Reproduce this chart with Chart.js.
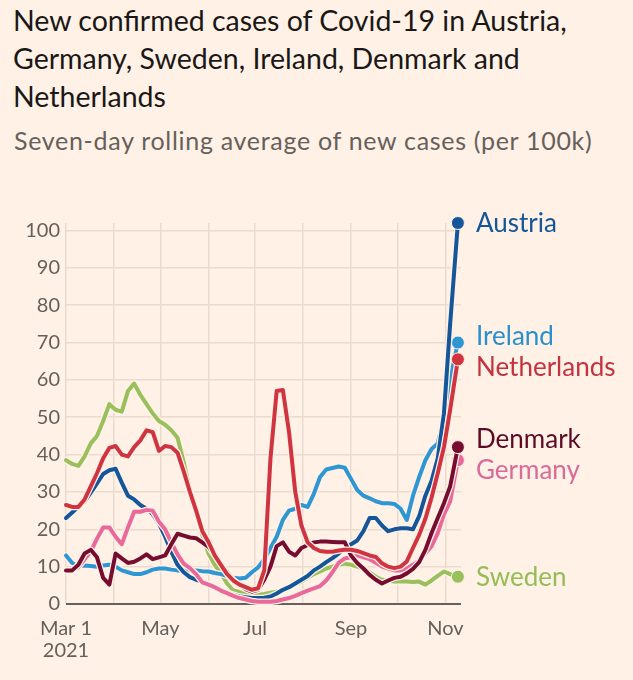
<!DOCTYPE html>
<html>
<head>
<meta charset="utf-8">
<script src="https://cdn.jsdelivr.net/npm/chart.js@4.4.0/dist/chart.umd.min.js"></script>
<style>
  html, body { margin: 0; padding: 0; background: #fff1e5; }
  body { width: 633px; height: 680px; position: relative; overflow: hidden; font-family: Lato, sans-serif; }
  #title { position: absolute; left: 13px; top: 1px; font-size: 28.5px; line-height: 38px; color: #1a1817; white-space: nowrap; }
  #subtitle { position: absolute; left: 14px; top: 125px; font-size: 25px; line-height: 30px; letter-spacing: 0.7px; color: #66605c; white-space: nowrap; }
  #wrap { position: absolute; left: 0; top: 180px; width: 633px; height: 500px; }
</style>
</head>
<body>
<div id="title">New confirmed cases of Covid-19 in Austria,<br>Germany, Sweden, Ireland, Denmark and<br>Netherlands</div>
<div id="subtitle">Seven-day rolling average of new cases (per 100k)</div>
<div id="wrap"><canvas id="myChart"></canvas></div>
<script>
// days since 1 Mar 2021
var days = [0, 4, 8, 12, 16, 20, 24, 28, 32, 36, 40, 44, 48, 52, 56, 60, 64, 68, 72, 76,
  80, 84, 88, 92, 96, 100, 104, 108, 112, 116, 120, 124, 128, 132, 136, 140, 144, 148, 152, 156,
  160, 164, 168, 172, 176, 180, 184, 188, 192, 196, 200, 204, 208, 212, 216, 220, 224, 228, 232, 236,
  240, 244, 248, 253];

var austria = [23, 24.5, 26, 27.5, 29.8, 32.3, 34.8, 35.8, 36.2, 32.5, 29, 28, 26.5, 25.5, 24, 21.5, 18, 14, 10.5, 8.5,
  7.2, 6.5, 6, 5.2, 4.5, 3.7, 3, 2.5, 2, 1.8, 1.6, 1.6, 1.7, 2, 2.8, 3.8, 4.5, 5.5, 6.5, 7.5,
  9, 10, 11.2, 12.3, 13.5, 15, 16, 17, 19.5, 23, 23, 21, 19.5, 20, 20.3, 20.3, 20, 23.5, 29, 33,
  39, 51, 75, 102];
var germany = [9, 9, 9.8, 12, 14, 17.5, 20.5, 20.5, 18, 16, 20.5, 24.7, 24.7, 25.2, 25, 22, 20, 16.5, 13.3, 10.8,
  9.6, 8, 5.8, 5.2, 4.5, 3.6, 2.9, 2.2, 1.6, 1.2, 0.8, 0.6, 0.6, 0.6, 0.8, 1.2, 1.6, 2.2, 2.9, 3.6,
  4.2, 4.8, 6.3, 8.5, 11, 12.2, 12.5, 13, 12.5, 12, 11, 10, 9.5, 9, 9, 9.5, 10.5, 11.5, 13.5, 15.5,
  19, 24, 27.5, 38.5];
var sweden = [38.5, 37.5, 37, 39.5, 43, 45, 49, 53.5, 52, 51.5, 57, 59, 56, 53.5, 51, 49, 48, 46.5, 44.5, 38,
  30.5, 24.5, 18.5, 13.5, 10.5, 8.2, 5.5, 3.6, 3.2, 2.6, 2.1, 2.5, 2.7, 3, 3.3, 3.8, 4.5, 5.3, 6, 7,
  8, 8.7, 9.5, 10, 10.4, 10.8, 10.5, 10, 9.5, 8.5, 7.3, 6.5, 6.2, 6, 6, 6, 5.9, 6, 5.2, 6.3,
  7.5, 8.7, 8, 7.3];
var ireland = [13, 11, 10, 10.3, 10.2, 10, 10.3, 10.5, 10, 9, 8.5, 8, 8, 8.5, 9.2, 9.5, 9.5, 9.2, 9, 9,
  9, 9, 8.8, 8.7, 8.3, 8, 7.5, 7, 6.8, 7, 8.5, 9.8, 12, 15, 18, 22.5, 25, 25.5, 26.5, 26,
  29.5, 34, 36, 36.4, 36.8, 36.5, 33.5, 30.5, 29, 28.3, 27.5, 27, 27, 26.8, 25.5, 22.5, 29, 34, 38.5, 41.5,
  43, 50, 60, 70];
var denmark = [9, 9, 10.5, 13.5, 14.5, 12.5, 7, 5.2, 13.5, 12.2, 11, 11.3, 12.2, 13.3, 12, 12.5, 13, 16, 18.8, 18.3,
  17.8, 17.6, 16.5, 15.3, 13, 10.8, 8.5, 6.5, 5, 4, 3.3, 3.8, 6.5, 10, 15.5, 16.5, 14, 13, 15, 15.8,
  16.5, 16.7, 16.7, 16.6, 16.5, 16.5, 13, 11, 9.5, 7.8, 6.5, 5.5, 6.3, 7, 7.3, 8.2, 9.4, 11.2, 14.5, 19,
  23, 27, 31.5, 42];
var netherlands = [26.5, 26, 26, 28, 31.5, 35, 39, 41.8, 42.3, 40, 39.5, 42, 43.8, 46.5, 46, 41, 42.3, 42, 40.5, 35.5,
  30, 25, 19.5, 16.6, 13, 10.5, 8, 6.3, 5.2, 4.5, 3.8, 4.2, 9, 39, 57, 57.3, 46, 30, 21, 16.5,
  15, 14.2, 14, 14, 14.3, 14.5, 14.5, 14.2, 13.6, 13, 12.6, 10.9, 10, 9.6, 10, 11.4, 15, 18.5, 22.8, 28.5,
  35, 42, 52, 65.5];

// month starts (days since 1 Mar) and their labels
var monthTicks = [0, 31, 61, 92, 122, 153, 184, 214, 245];
var monthLabels = [['Mar 1', '2021'], '', 'May', '', 'Jul', '', 'Sep', '', 'Nov'];
var yTicks = [0, 10, 20, 30, 40, 50, 60, 70, 80, 90, 100];

var paper = '#fff1e5';

// drawn top first
var series = [
  { label: 'Netherlands', values: netherlands, color: '#cf3440', text: '#c3333e' },
  { label: 'Denmark', values: denmark, color: '#760d30', text: '#5c0a25' },
  { label: 'Germany', values: germany, color: '#e8699a', text: '#d96a99' },
  { label: 'Austria', values: austria, color: '#13569a', text: '#13569a' },
  { label: 'Ireland', values: ireland, color: '#2e96d3', text: '#2a90cc' },
  { label: 'Sweden', values: sweden, color: '#99c05c', text: '#94bd58' }
];

// thin paper-coloured outline under every line
var casing = {
  id: 'casing',
  beforeDatasetDraw: function (chart, args) {
    var pts = args.meta.data;
    var ctx = chart.ctx;
    ctx.save();
    ctx.beginPath();
    pts.forEach(function (p, i) {
      if (i === 0) ctx.moveTo(p.x, p.y); else ctx.lineTo(p.x, p.y);
    });
    ctx.lineWidth = 6.5;
    ctx.strokeStyle = paper;
    ctx.lineJoin = 'round';
    ctx.lineCap = 'round';
    ctx.stroke();
    ctx.restore();
  }
};

// country names next to the last point, nudged apart when they collide
var endLabels = {
  id: 'endLabels',
  afterDatasetsDraw: function (chart) {
    var ctx = chart.ctx;
    var items = chart.data.datasets.map(function (ds, i) {
      var pts = chart.getDatasetMeta(i).data;
      return { text: ds.label, color: ds.textColor, y: pts[pts.length - 1].y };
    });
    items.sort(function (a, b) { return a.y - b.y; });
    var gap = 31;
    for (var k = 0; k < 6; k++) {
      for (var i = 1; i < items.length; i++) {
        var d = items[i].y - items[i - 1].y;
        if (d < gap) {
          var o = (gap - d) / 2;
          items[i - 1].y -= o;
          items[i].y += o;
        }
      }
    }
    ctx.save();
    ctx.font = '26px Lato';
    ctx.textAlign = 'left';
    ctx.textBaseline = 'middle';
    items.forEach(function (it) {
      ctx.fillStyle = it.color;
      ctx.fillText(it.text, 476, it.y + 1);
    });
    ctx.restore();
  }
};

function createChart() {
  Chart.defaults.font.family = 'Lato';
  Chart.defaults.color = '#66605c';

  var last = days.length - 1;
  var datasets = series.map(function (s) {
    return {
      label: s.label,
      textColor: s.text,
      data: days.map(function (d, i) { return { x: d, y: s.values[i] }; }),
      borderColor: s.color,
      backgroundColor: s.color,
      borderWidth: 4,
      borderJoinStyle: 'round',
      borderCapStyle: 'round',
      tension: 0,
      clip: false,
      pointRadius: function (c) { return c.dataIndex === last ? 6.5 : 0; },
      pointBackgroundColor: s.color,
      pointBorderColor: paper,
      pointBorderWidth: 1,
      pointHoverRadius: 0
    };
  });

  var ctx = document.getElementById('myChart').getContext('2d');
  new Chart(ctx, {
    type: 'line',
    data: { datasets: datasets },
    options: {
      responsive: true,
      maintainAspectRatio: false,
      animation: false,
      events: [],
      layout: { padding: { top: 43, right: 172, left: 0, bottom: 0 } },
      plugins: { legend: { display: false }, tooltip: { enabled: false } },
      scales: {
        x: {
          type: 'linear',
          min: 0,
          max: 255,
          afterBuildTicks: function (scale) {
            scale.ticks = monthTicks.map(function (v) { return { value: v }; });
          },
          afterFit: function (scale) { scale.height = 76; },
          ticks: {
            autoSkip: false,
            maxRotation: 0,
            padding: 13,
            font: { size: 20, lineHeight: 1.12 },
            color: '#66605c',
            callback: function (value, index) { return monthLabels[index]; }
          },
          grid: { color: '#e9dccf', lineWidth: 1.5, drawTicks: false },
          border: { display: false }
        },
        y: {
          min: 0,
          max: 102,
          afterBuildTicks: function (scale) {
            scale.ticks = yTicks.map(function (v) { return { value: v }; });
          },
          afterFit: function (scale) { scale.width = 66; },
          ticks: { padding: 6, font: { size: 20 }, color: '#66605c' },
          grid: {
            color: function (c) { return c.tick && c.tick.value === 0 ? '#66605c' : '#e9dccf'; },
            lineWidth: function (c) { return c.tick && c.tick.value === 0 ? 2 : 1.5; },
            drawTicks: false
          },
          border: { display: false }
        }
      }
    },
    plugins: [casing, endLabels]
  });
}

document.fonts.load('26px Lato').then(createChart, createChart);
</script>
</body>
</html>
